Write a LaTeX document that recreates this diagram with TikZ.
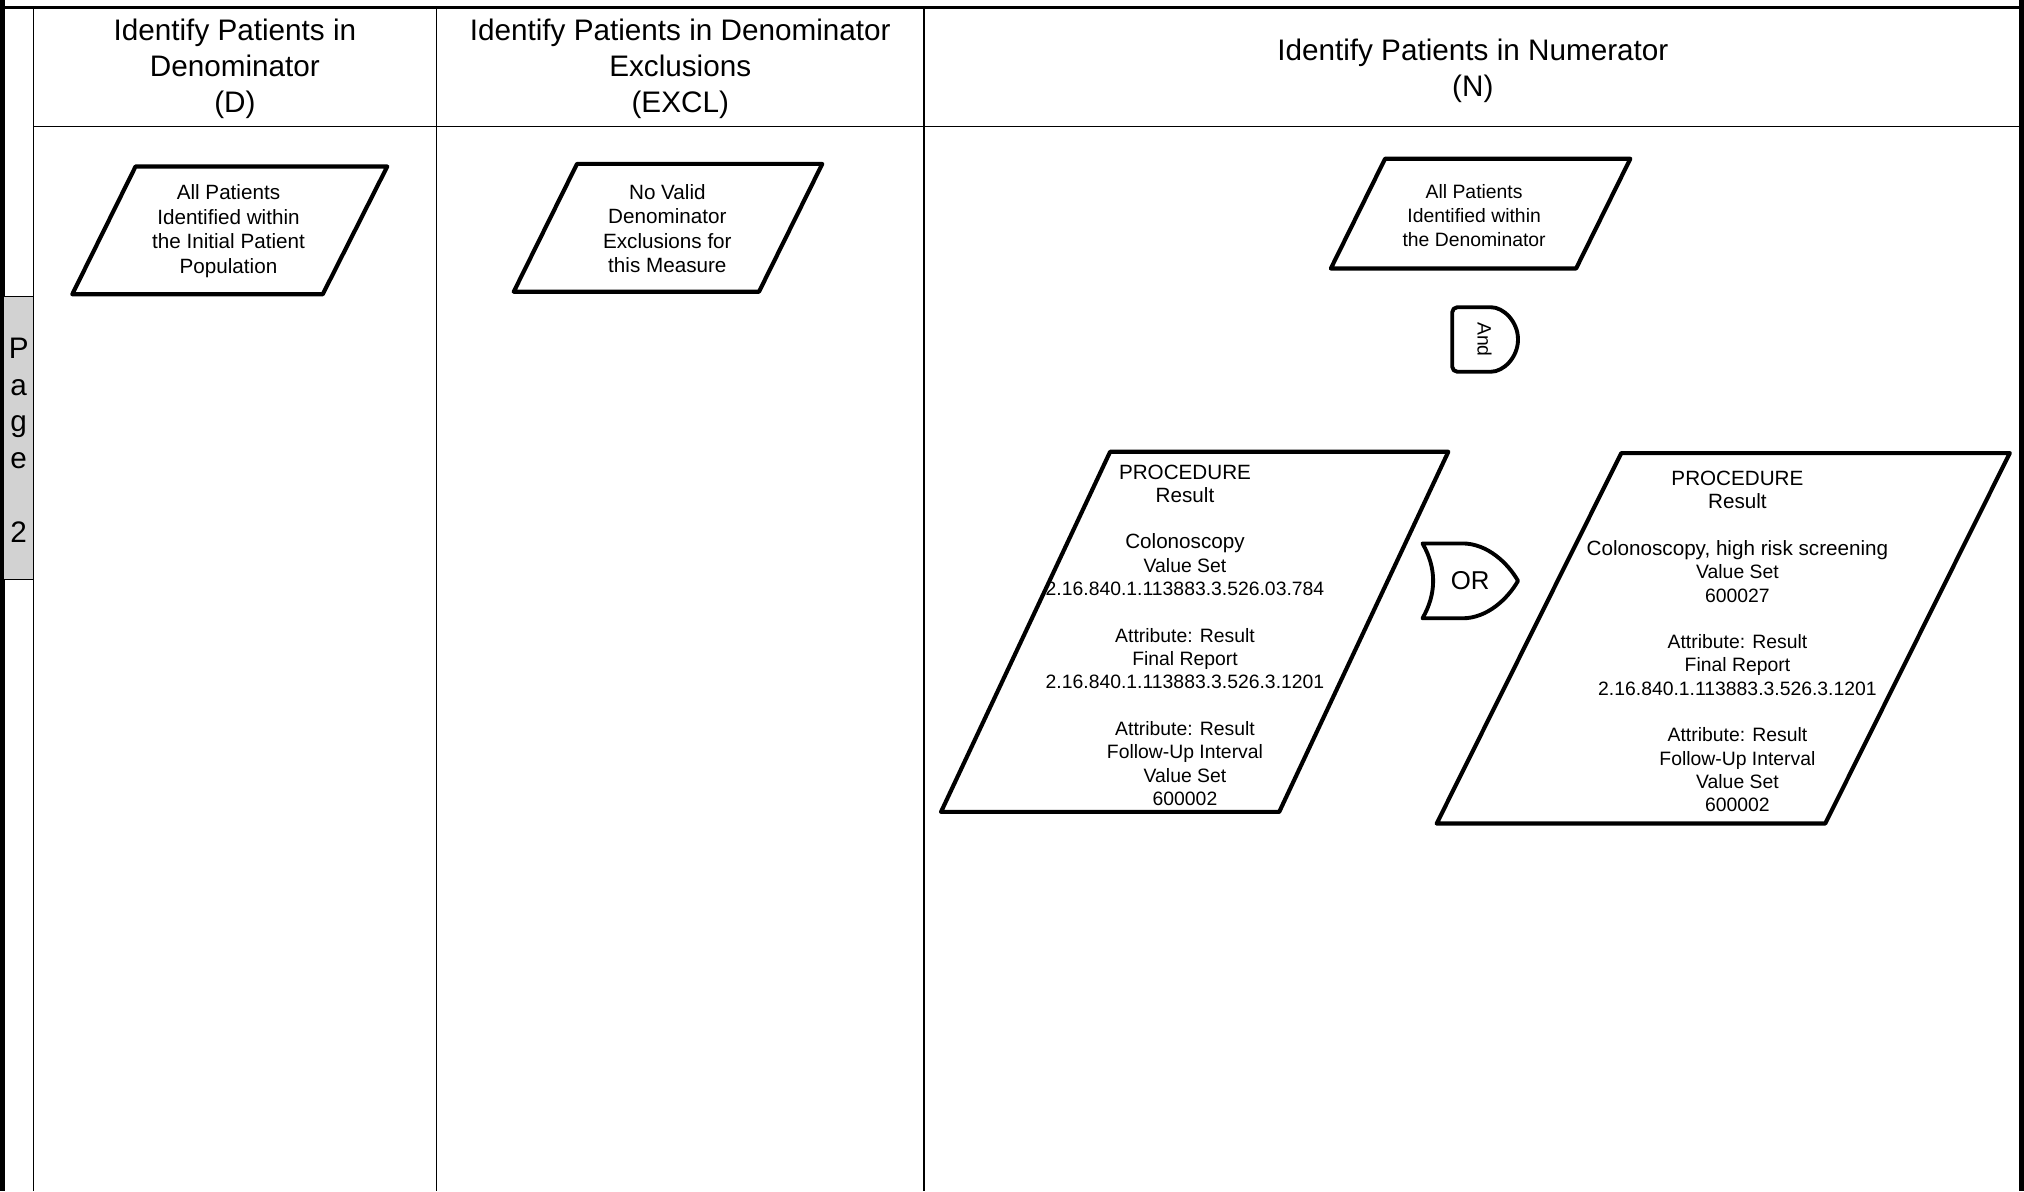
\documentclass[tikz,border=0pt]{standalone}
\usepackage{fontspec}
\setmainfont{Liberation Sans}
\newcommand\lgline[1]{{\fontsize{16}{18.07}\selectfont #1}}
\begin{document}
\begin{tikzpicture}[x=1pt,y=-1pt,
  para/.style={line width=3.2pt, line join=round},
  gate/.style={line width=3pt, line join=round},
  gridline/.style={line width=1.2pt},
  hdr/.style={align=center, font=\fontsize{23}{28}\selectfont, inner sep=0pt},
  ptxt/.style={align=center, font=\fontsize{16}{19}\selectfont, inner sep=0pt},
  btxt/.style={align=center, font=\fontsize{15}{18.07}\selectfont, inner sep=0pt},
]
\useasboundingbox (0,0) rectangle (1568,923);
\fill[white] (0,0) rectangle (1568,923);
% table lines
\draw[gridline] (26,6) -- (26,923);
\draw[gridline] (338,6) -- (338,923);
\draw[gridline] (716,6) -- (716,923);
\draw[line width=2pt] (0,6) -- (1566,6);
\draw[gridline] (26,98) -- (1566,98);
\fill (0,0) rectangle (4,923);
\fill (1564,0) rectangle (1568,923);
% page tab
\draw[fill=gray!35, line width=0.8pt] (3,230) rectangle (26,449);
\node[align=center, font=\fontsize{23}{28.6}\selectfont, inner sep=0pt] (page) at (14.5,341) {P\\a\\g\\e\\[28.6pt]2};
% headers
\node[hdr] (hD) at (182,53.5) {Identify Patients in\\Denominator\\(D)};
\node[hdr] (hE) at (527,53.5) {Identify Patients in Denominator\\Exclusions\\(EXCL)};
\node[hdr] (hN) at (1141,55) {Identify Patients in Numerator\\(N)};
% denominator
\draw[para] (105,129) -- (300,129) -- (250,228) -- (56,228) -- cycle;
\node[ptxt] (d1) at (177,179) {All Patients\\Identified within\\the Initial Patient\\Population};
% exclusions
\draw[para] (447,127) -- (637,127) -- (588,226) -- (398,226) -- cycle;
\node[ptxt] (e1) at (517,177) {No Valid\\Denominator\\Exclusions for\\this Measure};
% numerator
\draw[para] (1073,123) -- (1263,123) -- (1221,208) -- (1031,208) -- cycle;
\node[ptxt, font=\fontsize{15}{18.5}\selectfont] (n1) at (1142,167) {All Patients\\Identified within\\the Denominator};
% And gate
\draw[gate, rounded corners=4pt] (1151,238) arc[start angle=-90, end angle=90, radius=25] -- (1125,288) -- (1125,238) -- cycle;
\node[rotate=-90, font=\fontsize{15}{18}\selectfont, inner sep=0pt] (andg) at (1150,263) {And};
% procedure A
\draw[para] (860,350) -- (1122,350) -- (991,629) -- (729,629) -- cycle;
\node[btxt] (pA) at (918,492) {\lgline{PROCEDURE}\\\lgline{Result}\\[18pt]\lgline{Colonoscopy}\\Value Set\\2.16.840.1.113883.3.526.03.784\\[18pt]Attribute: Result\\Final Report\\2.16.840.1.113883.3.526.3.1201\\[18pt]Attribute: Result\\Follow-Up Interval\\Value Set\\600002};
% OR gate
\draw[gate] (1102,421) -- (1133,421) .. controls (1152,421) and (1168,436) .. (1176,450) .. controls (1168,464) and (1152,479) .. (1133,479) -- (1102,479) .. controls (1113,460) and (1113,440) .. (1102,421) -- cycle;
\node[font=\fontsize{20}{24}\selectfont, inner sep=0pt] (org) at (1139,450) {OR};
% procedure B
\draw[para] (1256,351) -- (1557,351) -- (1414,638) -- (1113,638) -- cycle;
\node[btxt] (pB) at (1346,497) {\lgline{PROCEDURE}\\\lgline{Result}\\[18pt]\lgline{Colonoscopy, high risk screening}\\Value Set\\600027\\[18pt]Attribute: Result\\Final Report\\2.16.840.1.113883.3.526.3.1201\\[18pt]Attribute: Result\\Follow-Up Interval\\Value Set\\600002};
\end{tikzpicture}
\end{document}
